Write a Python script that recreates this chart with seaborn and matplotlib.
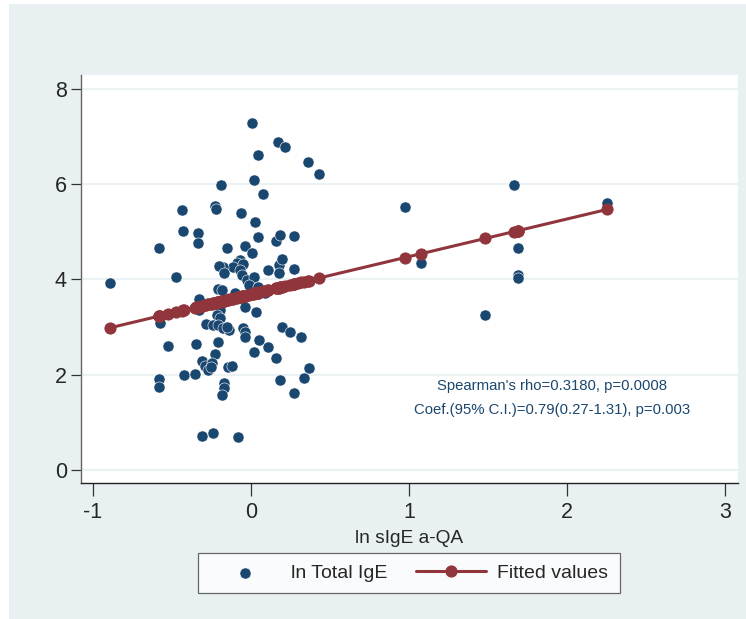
import matplotlib
matplotlib.use("Agg")
import matplotlib.pyplot as plt
from matplotlib.patches import Rectangle
import numpy as np
import pandas as pd
import seaborn as sns

# ln sIgE a-QA (x) and ln Total IgE (y)
ln_sige = [
    -0.889, 0.006, 0.171, 0.217, 0.046, 0.363, 0.432, -0.188, 0.021, 0.074,
    -0.433, -0.224, -0.220, -0.063, 0.027, -0.430, -0.334, -0.334, -0.580, -0.150,
    0.042, 0.158, 0.185, 0.270, -0.036, 0.006, -0.068, -0.089, -0.114, -0.177,
    -0.199, -0.047, -0.068, -0.167, -0.057, -0.025, 0.021, 0.111, 0.175, 0.196,
    0.175, 0.270, -0.475, -0.015, 0.042, -0.209, -0.184, -0.100, -0.330, -0.330,
    -0.194, -0.215, -0.194, -0.036, 0.034, -0.574, -0.283, -0.237, -0.205, -0.177,
    -0.137, -0.152, -0.047, -0.038, -0.036, 0.053, 0.017, 0.111, 0.160, 0.196,
    0.245, 0.318, -0.525, -0.350, -0.207, -0.226, -0.310, -0.289, -0.268, -0.247,
    -0.253, -0.424, -0.354, -0.142, -0.118, -0.167, -0.169, -0.184, -0.582, -0.580,
    0.181, 0.270, 0.333, 0.365, -0.306, -0.239, -0.080, 0.975, 1.662, 2.253,
    1.076, 1.690, 1.690, 1.690, 1.481, -0.270, 0.090, 0.300,
]
ln_total_ige = [
    3.93, 7.28, 6.88, 6.78, 6.62, 6.46, 6.22, 5.99, 6.08, 5.80,
    5.46, 5.54, 5.47, 5.40, 5.21, 5.02, 4.97, 4.77, 4.66, 4.66,
    4.89, 4.81, 4.93, 4.92, 4.70, 4.56, 4.41, 4.34, 4.27, 4.27,
    4.28, 4.33, 4.20, 4.13, 4.09, 3.99, 4.05, 4.20, 4.30, 4.42,
    4.13, 4.23, 4.05, 3.88, 3.85, 3.79, 3.78, 3.72, 3.59, 3.37,
    3.36, 3.25, 3.19, 3.43, 3.32, 3.08, 3.07, 3.04, 3.04, 2.98,
    2.94, 3.00, 2.98, 2.90, 2.80, 2.72, 2.48, 2.58, 2.35, 3.00,
    2.90, 2.80, 2.60, 2.64, 2.69, 2.44, 2.29, 2.18, 2.11, 2.24,
    2.17, 2.00, 2.01, 2.16, 2.18, 1.82, 1.72, 1.57, 1.91, 1.74,
    1.90, 1.62, 1.93, 2.14, 0.71, 0.78, 0.70, 5.53, 5.99, 5.60,
    4.34, 4.66, 4.09, 4.03, 3.25, 3.48, 3.72, 3.93,
]

fit_intercept = 3.69
fit_slope = 0.79

x_ticks = [-1, 0, 1, 2, 3]
y_ticks = [0, 2, 4, 6, 8]
stats_lines = [
    "Spearman's rho=0.3180, p=0.0008",
    "Coef.(95% C.I.)=0.79(0.27-1.31), p=0.003",
]

df = pd.DataFrame({"x": ln_sige, "y": ln_total_ige})
df["fitted"] = fit_intercept + fit_slope * df["x"]

navy = "#1A476F"
maroon = "#90353B"
bg = "#E8F0F2"

sns.set_style("white")
plt.rcParams["font.family"] = ["Liberation Sans", "DejaVu Sans"]

fig = plt.figure(figsize=(7.46, 6.19), dpi=100, facecolor="white")
fig.patches.append(
    Rectangle((9 / 746, 0), 1, 1 - 4 / 619, transform=fig.transFigure,
              facecolor=bg, edgecolor="none", zorder=-10)
)

ax = fig.add_axes([80.7 / 746, 1 - 483 / 619, (738 - 80.7) / 746, (483 - 75) / 619])
ax.set_facecolor("white")

sns.scatterplot(
    data=df, x="x", y="y", ax=ax,
    color=navy, s=64, edgecolor="white", linewidth=0.4,
    label="ln Total IgE", zorder=3,
)
sns.lineplot(
    data=df, x="x", y="fitted", ax=ax,
    color=maroon, linewidth=2.2, marker="o", markersize=8,
    markeredgecolor=maroon, estimator=None, sort=True,
    label="Fitted values", zorder=4,
)

ax.set_xlim(-1.076, 3.08)
ax.set_ylim(-0.27, 8.29)
ax.set_xticks(x_ticks)
ax.set_yticks(y_ticks)
ax.set_xticklabels([str(t) for t in x_ticks])
ax.set_yticklabels([str(t) for t in y_ticks])
ax.yaxis.grid(True, color="#EAF2F3", linewidth=1.5)
ax.set_axisbelow(True)

for side in ["top", "right"]:
    ax.spines[side].set_visible(False)
ax.spines["left"].set_color("#666666")
ax.spines["bottom"].set_color("#222222")
for side in ["left", "bottom"]:
    ax.spines[side].set_linewidth(1.0)

ax.tick_params(axis="x", direction="out", length=9, width=0.9, color="#333333",
               labelsize=15.5, pad=5)
ax.tick_params(axis="y", direction="out", length=7, width=0.9, color="#333333",
               labelsize=15.5, pad=3)
ax.tick_params(left=True, bottom=True)

ax.set_xlabel("ln sIgE a-QA", fontsize=13.8, labelpad=5)
ax.set_ylabel("")

ax.text(1.907, 1.76, stats_lines[0], ha="center", va="center",
        color=navy, fontsize=10.7)
ax.text(1.907, 1.26, stats_lines[1], ha="center", va="center",
        color=navy, fontsize=10.7)

handles, labels = ax.get_legend_handles_labels()
ax.get_legend().remove()
leg = fig.legend(
    handles, labels, ncol=2, loc="center",
    bbox_to_anchor=(409 / 746, 1 - 573 / 619),
    frameon=True, fancybox=False, edgecolor="#444444", facecolor="white",
    fontsize=14, handlelength=3.6, columnspacing=1.45, handletextpad=0.6,
    borderpad=0.6, borderaxespad=0,
)
leg.get_frame().set_linewidth(0.9)

fig.savefig("out.png", dpi=100, facecolor=fig.get_facecolor())
